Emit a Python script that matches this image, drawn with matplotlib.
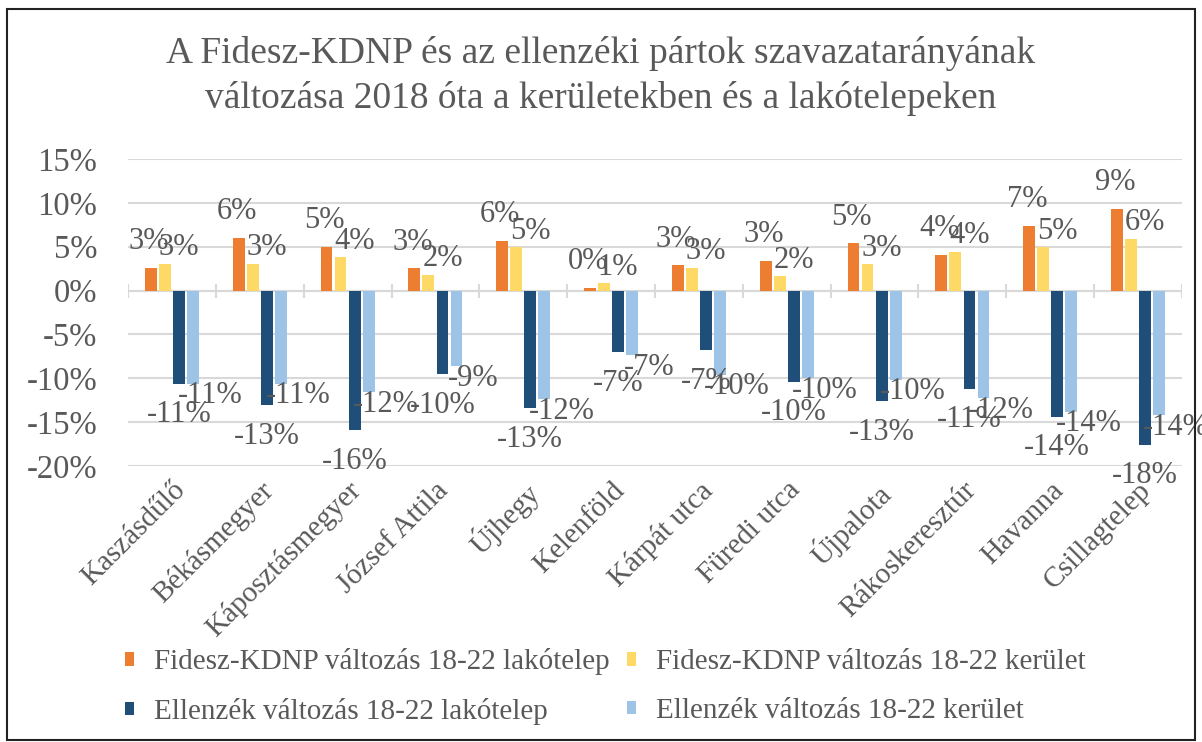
import matplotlib.pyplot as plt
import numpy as np
from matplotlib.ticker import PercentFormatter, MultipleLocator
from matplotlib.patches import Rectangle

plt.rcParams['font.family'] = ['Liberation Serif', 'DejaVu Serif']
plt.rcParams['axes.unicode_minus'] = False

# adatok (százalék)
kategoriak = ['Kaszásdűlő', 'Békásmegyer', 'Káposztásmegyer', 'József Attila', 'Újhegy',
              'Kelenföld', 'Kárpát utca', 'Füredi utca', 'Újpalota', 'Rákoskeresztúr',
              'Havanna', 'Csillagtelep']
fidesz_lakotelep = [2.6, 6.0, 5.0, 2.55, 5.7, 0.3, 2.9, 3.4, 5.4, 4.1, 7.4, 9.3]
fidesz_kerulet = [3.05, 3.05, 3.8, 1.8, 4.96, 0.84, 2.6, 1.65, 3.0, 4.4, 4.96, 5.9]
ellenzek_lakotelep = [-10.6, -13.1, -15.95, -9.55, -13.4, -7.05, -6.8, -10.4, -12.6, -11.2, -14.4, -17.6]
ellenzek_kerulet = [-10.6, -10.6, -11.6, -8.6, -12.4, -7.4, -9.6, -10.0, -10.15, -12.25, -13.8, -14.2]

nevek = ['Fidesz-KDNP változás 18-22 lakótelep', 'Fidesz-KDNP változás 18-22 kerület',
         'Ellenzék változás 18-22 lakótelep', 'Ellenzék változás 18-22 kerület']
szinek = ['#ED7D31', '#FFD966', '#1F4E79', '#9DC3E6']
# címke eltolás pixelben (x, y)
eltolas = [(-2, 26), (14, 16), (0, -31), (17, -12)]

szoveg = '#595959'
fig = plt.figure(figsize=(12.02, 7.42), dpi=100)
ax = fig.add_axes([128/1202, 1 - 466/742, (1182-128)/1202, (466-159)/742])

x = np.arange(len(kategoriak))
sorok = [fidesz_lakotelep, fidesz_kerulet, ellenzek_lakotelep, ellenzek_kerulet]
for i, (vals, nev, szin) in enumerate(zip(sorok, nevek, szinek)):
    pos = x + (i - 1.5) * 0.16
    ax.bar(pos, vals, width=0.135, color=szin, label=nev, zorder=3)
    for px, v in zip(pos, vals):
        ax.annotate(f'{int(np.floor(abs(v) + 0.5)) * (1 if v >= 0 else -1)}%', (px, v),
                    xytext=eltolas[i], textcoords='offset pixels',
                    ha='center', va='center', fontsize=22, color=szoveg, zorder=4)

ax.set_ylim(-20, 15)
ax.set_xlim(-0.5, len(kategoriak) - 0.5)
ax.yaxis.set_major_locator(MultipleLocator(5))
ax.yaxis.set_major_formatter(PercentFormatter(decimals=0))
ax.grid(axis='y', color='#D9D9D9', linewidth=1.5, zorder=0)
ax.axhline(0, color='#D9D9D9', linewidth=1.5, zorder=1)
ax.vlines(np.arange(len(kategoriak) + 1) - 0.5, -0.8, 0.8, color='#D9D9D9', linewidth=1.5, zorder=1)
for s in ax.spines.values():
    s.set_visible(False)
ax.tick_params(axis='y', length=0, pad=22, labelsize=23.5, labelcolor=szoveg)
ax.tick_params(axis='x', length=0, pad=8, labelsize=21, labelcolor=szoveg)
ax.set_xticks(x)
ax.set_xticklabels(kategoriak, rotation=45, ha='right', rotation_mode='anchor')

fig.suptitle('A Fidesz-KDNP és az ellenzéki pártok szavazatarányának\nváltozása 2018 óta a kerületekben és a lakótelepeken',
             y=0.952, fontsize=27, color=szoveg, linespacing=1.38)

h, l = ax.get_legend_handles_labels()
sorrend = [0, 2, 1, 3]
fig.legend([h[k] for k in sorrend], [l[k] for k in sorrend],
           loc='lower left', bbox_to_anchor=(99/1202, -0.012), ncol=2, frameon=False,
           fontsize=21, labelcolor=szoveg, handlelength=0.31, handleheight=0.31,
           handletextpad=0.68, columnspacing=0.6, labelspacing=0.76)

fig.patches.append(Rectangle((7/1202, 0.003), 1188/1202, 1 - 9/742 - 0.003,
                             transform=fig.transFigure, fill=False, edgecolor='#222222', linewidth=1.5))

fig.savefig('out.png', dpi=100)
